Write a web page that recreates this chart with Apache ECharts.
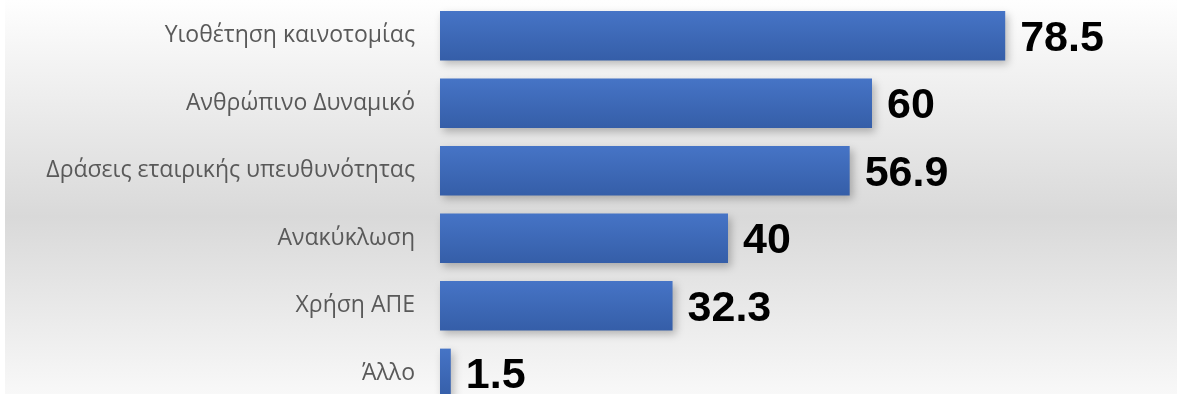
<!DOCTYPE html>
<html>
<head>
<meta charset="utf-8">
<script src="https://cdn.jsdelivr.net/npm/echarts@6/dist/echarts.min.js"></script>
<style>
  html, body { margin: 0; padding: 0; background: #ffffff; }
  #chart { width: 1179px; height: 394px; }
</style>
</head>
<body>
<div id="chart"></div>
<script>
// categories, top to bottom
const categories = [
  'Υιοθέτηση καινοτομίας',
  'Ανθρώπινο Δυναμικό',
  'Δράσεις εταιρικής υπευθυνότητας',
  'Ανακύκλωση',
  'Χρήση ΑΠΕ',
  'Άλλο'
];
const values = [78.5, 60, 56.9, 40, 32.3, 1.5];

const chart = echarts.init(document.getElementById('chart'));

chart.setOption({
  animation: false,
  graphic: [
    {
      type: 'rect',
      z: -10,
      shape: { x: 5, y: 0, width: 1172, height: 394 },
      style: {
        fill: new echarts.graphic.LinearGradient(0, 0, 0, 1, [
          { offset: 0, color: '#fefefe' },
          { offset: 0.55, color: '#d9d9d9' },
          { offset: 1, color: '#f8f8f8' }
        ])
      },
      silent: true
    }
  ],
  grid: {
    left: 440,
    top: 2,
    width: 720,
    height: 405,
    outerBoundsMode: 'none'
  },
  xAxis: {
    type: 'value',
    min: 0,
    max: 100,
    show: false
  },
  yAxis: {
    type: 'category',
    data: categories,
    inverse: true,
    axisLine: { show: false },
    axisTick: { show: false },
    axisLabel: {
      margin: 25,
      fontFamily: 'Open Sans',
      fontSize: 23,
      color: '#595959'
    }
  },
  series: [
    {
      type: 'bar',
      data: values,
      barCategoryGap: '27%',
      itemStyle: {
        color: new echarts.graphic.LinearGradient(0, 0, 0, 1, [
          { offset: 0, color: '#4674c6' },
          { offset: 1, color: '#355ea8' }
        ]),
        shadowBlur: 8,
        shadowColor: 'rgba(0,0,0,0.25)',
        shadowOffsetX: 3,
        shadowOffsetY: 4
      },
      label: {
        show: true,
        position: 'right',
        distance: 15,
        offset: [0, 3],
        fontFamily: 'Liberation Sans',
        fontWeight: 'bold',
        fontSize: 43,
        color: '#000000'
      }
    }
  ]
});
</script>
</body>
</html>
